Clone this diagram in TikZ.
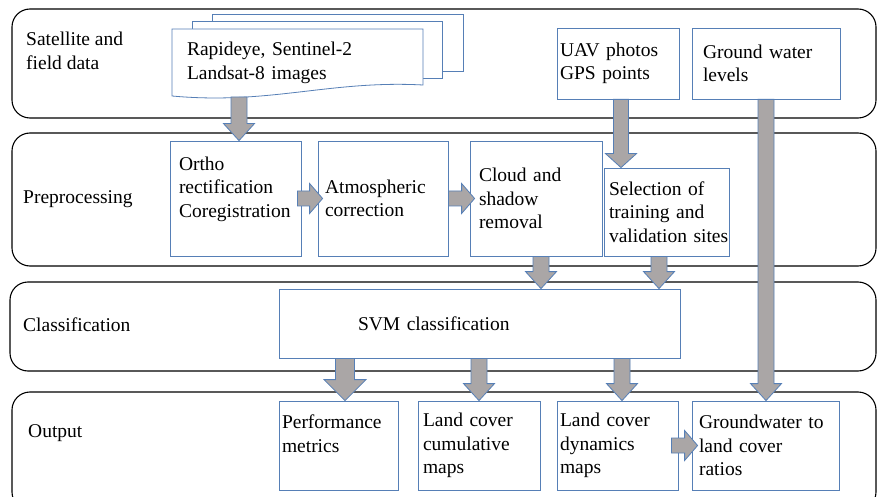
\documentclass[tikz,border=0pt]{standalone}
\usepackage{fontspec}
\setmainfont{Liberation Serif}
\usetikzlibrary{calc}
\definecolor{boxblue}{RGB}{86,127,182}
\definecolor{arrowgray}{RGB}{170,166,166}
\tikzstyle{lane} = [rectangle, rounded corners=18pt, draw=black, line width=1.1pt, fill=white]
\tikzstyle{box} = [rectangle, draw=boxblue, line width=0.8pt, fill=white, align=left]
\tikzstyle{page} = [draw=boxblue, line width=0.8pt, fill=white]
\tikzstyle{lanelabel} = [anchor=west, align=left, inner sep=0pt]
% block arrow: shaft half width, head half width, head length
\tikzset{block/.style n args={3}{draw=boxblue, fill=arrowgray, line width=0.8pt,
  to path={($(\tikztostart)!#1!90:(\tikztotarget)$)
    -- ($(\tikztotarget)!#3!(\tikztostart)!#1!90:(\tikztotarget)$)
    -- ($(\tikztotarget)!#3!(\tikztostart)!#2!90:(\tikztotarget)$)
    -- (\tikztotarget)
    -- ($(\tikztotarget)!#3!(\tikztostart)!#2!-90:(\tikztotarget)$)
    -- ($(\tikztotarget)!#3!(\tikztostart)!#1!-90:(\tikztotarget)$)
    -- ($(\tikztostart)!#1!-90:(\tikztotarget)$) -- cycle}}}
\tikzstyle{varrow} = [block={8pt}{15.5pt}{17pt}]
\tikzstyle{bigarrow} = [block={9.5pt}{21pt}{21pt}]
\tikzstyle{harrow} = [block={7.5pt}{15pt}{13pt}]

\begin{document}
\begin{tikzpicture}[x=1pt, y=-1pt, font=\fontsize{19.5pt}{23.5pt}\selectfont]
  \useasboundingbox (0,0) rectangle (878,497);

  % lanes
  \node (lane1) [lane, minimum width=864pt, minimum height=109pt] at (444,63.5) {};
  \node (lane2) [lane, minimum width=864pt, minimum height=133pt] at (444,199.5) {};
  \node (lane3) [lane, minimum width=866pt, minimum height=89pt] at (443,326.5) {};
  \node (lane4) [lane, minimum width=864pt, minimum height=118pt] at (444,451) {};

  \node (sat) [lanelabel] at (26,51) {Satellite and\\field data};
  \node (pre) [lanelabel] at (23,199) {Preprocessing};
  \node (cla) [lanelabel] at (23,325) {Classification};
  \node (out) [lanelabel] at (28,433) {Output};

  % image stack
  \draw [page] (212,14) rectangle (463,71);
  \draw [page] (192,21) rectangle (442,78);
  \draw [page] (172,29) -- (423,29) -- (423,85) .. controls (330,80) and (270,105) .. (172,96) -- cycle;
  \node (doc) [align=left, inner xsep=15pt, text width=221pt, minimum height=68pt] at (297.5,63) {Rapideye, Sentinel-2\\Landsat-8 images};

  \node (uav) [box, inner xsep=3pt, text width=116pt, minimum height=71pt] at (618,63.5) {UAV photos\\GPS points};
  \node (gw) [box, inner xsep=11pt, text width=126pt, minimum height=71pt] at (766,63.5) {Ground water\\levels};

  % preprocessing
  \node (ortho) [box, inner xsep=9pt, text width=113pt, minimum height=115pt] at (235.5,198.5) {Ortho\\rectification\\Coregistration\\\mbox{}};
  \node (atm) [box, inner xsep=7pt, text width=116pt, minimum height=115pt] at (383,198.5) {Atmospheric\\correction};
  \node (cloud) [box, inner xsep=9pt, text width=114pt, minimum height=115pt] at (536,198.5) {Cloud and\\shadow\\removal};
  \node (sel) [box, inner xsep=5pt, text width=115pt, minimum height=88pt] at (666.5,212) {Selection of\\training and\\\mbox{validation sites}};

  % classification
  \node (svm) [box, inner xsep=79pt, text width=243pt, minimum height=69pt] at (479.5,323.5) {SVM classification};

  % output
  \node (perf) [box, inner xsep=3pt, text width=113pt, minimum height=89pt] at (338.5,445.5) {Performance\\metrics\\\mbox{}};
  \node (cum) [box, inner xsep=5pt, text width=112pt, minimum height=89pt] at (479,445.5) {Land cover\\cumulative\\maps};
  \node (dyn) [box, inner xsep=3pt, text width=115pt, minimum height=89pt] at (617.5,445.5) {Land cover\\dynamics\\maps};
  \node (gwout) [box, inner xsep=7pt, text width=133pt, minimum height=89pt] at (765.5,445.5) {Groundwater to\\land cover\\ratios};

  % arrows
  \coordinate (docout) at (239,97);
  \coordinate (uavout) at ([xshift=3pt]uav.south);
  \coordinate (cloudout) at ([xshift=5pt]cloud.south);
  \coordinate (selout) at ([xshift=-7.5pt]sel.south);
  \coordinate (perfin) at ([xshift=6.5pt]perf.north);
  \coordinate (dynin) at ([xshift=4.5pt]dyn.north);

  \draw [varrow] (docout) to (docout |- ortho.north);
  \draw [block={7.5pt}{15.5pt}{14pt}] (uavout) to (uavout |- sel.north);
  \draw [varrow] (gw.south) to (gw.south |- gwout.north);
  \draw [harrow] ([xshift=-4pt]ortho.east) to ([xshift=5pt]atm.west);
  \draw [harrow] (atm.east) to ([xshift=5pt]cloud.west);
  \draw [varrow] (cloudout) to (cloudout |- svm.north);
  \draw [varrow] (selout) to (selout |- svm.north);
  \draw [bigarrow] (perfin |- svm.south) to (perfin);
  \draw [varrow] (cum.north |- svm.south) to (cum.north);
  \draw [varrow] (dynin |- svm.south) to (dynin);
  \draw [harrow] ([xshift=-7pt]dyn.east) to ([xshift=6pt]gwout.west);
\end{tikzpicture}
\end{document}
